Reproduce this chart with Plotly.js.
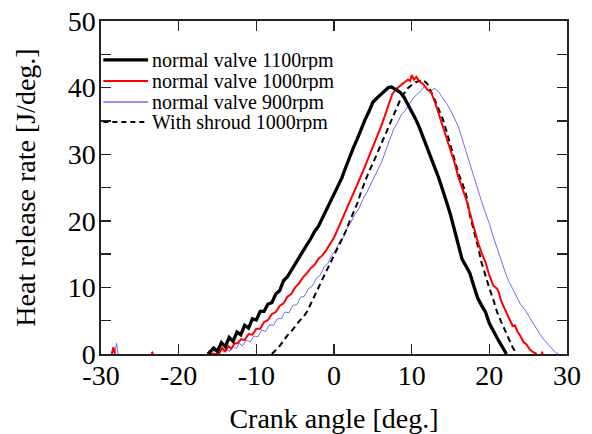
<!DOCTYPE html>
<html>
<head>
<meta charset="utf-8">
<script src="https://cdn.plot.ly/plotly-3.0.1.min.js"></script>
<style>html,body{margin:0;padding:0;background:#fff;}#chart{width:592px;height:434px;}</style>
</head>
<body>
<div id="chart"></div>
<script>
// Series names
const seriesNames = ["normal valve 1100rpm", "normal valve 1000rpm", "normal valve 900rpm", "With shroud 1000rpm"];

// Tick labels (hyphen minus as in the reference)
const xTickVals = [-30, -20, -10, 0, 10, 20, 30];
const xTickText = ["-30", "-20", "-10", "0", "10", "20", "30"];
const yTickVals = [0, 10, 20, 30, 40, 50];
const yTickText = ["0", "10", "20", "30", "40", "50"];

// normal valve 1100rpm
const x1100 = [-16.2,-15.5,-15.0,-14.5,-14.0,-13.5,-13.0,-12.5,-12.0,-11.5,-11.0,-10.5,-10.0,-9.5,-9.0,-8.5,-8.0,-7.5,-7.0,-6.5,-6.0,-5.5,-5.0,-4.5,-4.0,-3.5,-3.0,-2.5,-2.0,-1.5,-1.0,-0.5,0,0.5,1.0,1.5,2.0,2.5,3.0,3.5,4.0,4.5,5.0,5.5,6.0,6.5,7.0,7.4,8.0,8.5,9.0,9.5,10.0,10.5,11.0,11.5,12.0,12.5,13.0,13.5,14.0,14.5,15.0,15.5,16.0,16.5,17.0,17.5,18.0,18.5,19.0,19.5,20.0,20.5,21.0,21.5,22.2];
const y1100 = [0,0.9,0.4,1.7,1.1,2.5,1.9,3.3,2.9,4.3,3.9,5.3,5.1,6.4,6.4,7.5,7.7,9.0,9.5,11.0,11.6,12.6,13.4,14.5,15.4,16.4,17.3,18.4,19.2,20.4,21.5,22.8,24.0,25.2,26.4,28.0,29.6,31.0,32.3,33.8,35.2,36.4,37.8,38.4,38.9,39.5,40.0,40.1,39.6,39.3,38.6,37.5,36.5,35.3,34.0,32.4,30.9,29.5,27.9,26.4,24.7,22.8,20.9,18.6,16.0,14.2,13.2,12.1,10.2,8.4,7.3,6.3,4.6,3.4,2.4,1.4,0];

// normal valve 1000rpm (null separates isolated blips)
const x1000 = [-28.6,-28.4,-28.2,null,-23.5,-23.4,-23.3,null,-16.3,-16.1,-15.9,-14.8,-14.4,-14.0,-13.6,-13.2,-12.8,-12.4,-12.0,-11.5,-11.0,-10.5,-10.0,-9.5,-9.0,-8.5,-8.0,-7.5,-7.0,-6.5,-6.0,-5.5,-5.0,-4.5,-4.0,-3.5,-3.0,-2.5,-2.0,-1.5,-1.0,-0.5,0.0,0.5,1.0,1.5,2.0,2.5,3.0,3.5,4.0,4.5,5.0,5.5,6.0,6.5,7.0,7.5,8.0,8.5,9.0,9.5,9.8,10.0,10.3,10.6,11.0,11.5,12.0,12.5,13.0,13.5,14.0,14.5,15.0,15.5,16.0,16.5,17.0,17.5,18.0,18.5,19.0,19.5,20.0,20.5,21.0,21.2,21.5,22.0,22.5,23.0,23.3,23.6,24.0,24.4,24.8,25.2,25.6,26.1,null,26.7,26.8,26.9];
const y1000 = [0,1.0,0,null,0,0.2,0,null,0,0.3,0,0,0.9,0.4,1.2,0.8,1.6,1.6,2.2,2.1,3.0,2.9,3.8,3.8,4.8,5.1,6.0,6.3,7.2,7.6,8.6,9.0,10.0,10.6,11.5,12.1,12.9,13.4,14.3,14.8,15.6,16.6,17.5,18.8,20.1,21.4,22.8,24.0,25.3,26.8,28.2,29.6,31.2,32.6,34.0,35.6,37.2,39.0,39.8,40.3,40.7,41.2,41.0,41.9,41.2,41.6,40.9,40.5,39.7,39.3,37.8,36.0,34.4,32.7,30.8,28.8,26.6,25.0,23.3,21.2,19.0,16.9,15.2,13.8,11.8,10.3,9.8,9.3,8.0,6.7,5.3,4.2,4.3,3.4,2.7,1.8,1.4,0.7,0.3,0,null,0,0.2,0];

// normal valve 900rpm
const x900 = [-28.7,-28.4,-28.2,-28.0,-27.8,null,-15.8,-15.3,-15.0,-14.6,-14.2,-13.8,-13.4,-13.0,-12.6,-12.2,-11.8,-11.3,-10.8,-10.3,-9.8,-9.3,-8.8,-8.3,-7.8,-7.3,-6.8,-6.3,-5.8,-5.3,-4.8,-4.3,-3.8,-3.3,-2.8,-2.3,-1.8,-1.3,-0.8,-0.3,0.2,0.7,1.2,1.7,2.2,2.7,3.2,3.7,4.2,4.7,5.2,5.7,6.2,6.7,7.2,7.7,8.2,8.7,9.2,9.7,10.2,10.7,11.2,11.7,12.1,12.5,13.0,13.5,14.0,14.5,15.0,15.5,16.0,16.5,17.0,17.5,18.0,18.5,19.0,19.5,20.0,20.5,21.0,21.5,22.0,22.5,23.0,23.5,24.0,24.5,25.0,25.5,26.0,26.5,27.0,27.5,28.0,28.4,28.9];
const y900 = [0,1.0,0.2,1.6,0,null,0,0.5,0.2,0.7,0.3,0.6,0.4,1.2,0.8,1.6,1.2,2.1,1.8,2.7,2.6,3.6,3.4,4.4,4.3,5.3,5.3,6.3,6.2,7.3,7.4,8.5,8.7,9.8,10.2,11.3,11.8,13.0,13.6,14.8,15.6,16.8,17.5,18.9,19.8,21.0,21.8,23.2,24.2,25.4,26.4,27.8,29.0,30.7,32.2,33.8,34.8,36.0,36.6,37.6,38.4,39.0,39.5,40.3,39.7,39.5,39.9,39.3,38.5,37.6,36.6,35.4,34.2,32.3,30.4,28.6,26.5,24.6,22.9,21.2,19.6,17.6,16.0,14.2,12.4,10.9,9.8,8.6,7.5,6.8,5.8,4.9,3.8,3.0,2.2,1.5,0.8,0.35,0];

// With shroud 1000rpm
const xShroud = [-8.0,-7.5,-7.0,-6.5,-6.0,-5.5,-5.0,-4.5,-4.0,-3.5,-3.0,-2.5,-2.0,-1.5,-1.0,-0.5,0,0.5,1.0,1.5,2.0,2.5,3.0,3.5,4.0,4.5,5.0,5.5,6.0,6.5,7.0,7.5,8.0,8.5,9.0,9.5,10.0,10.5,11.0,11.4,12.0,12.5,13.0,13.5,14.0,14.5,15.0,15.5,16.0,16.5,17.0,17.5,18.0,18.5,19.0,19.5,20.0,20.5,21.0,21.5,22.0,22.5,23.0,23.5];
const yShroud = [0,0.6,1.2,2.0,2.8,3.4,4.2,4.9,5.5,6.3,7.5,8.8,10.0,11.2,12.4,13.6,14.9,16.0,17.2,18.4,19.9,21.2,22.6,24.4,26.0,27.4,28.6,30.0,31.4,32.8,34.2,35.4,36.8,38.1,39.1,39.9,40.4,40.8,41.0,41.2,40.6,39.4,38.1,36.7,35.3,33.4,31.3,29.3,27.2,25.7,24.0,20.8,18.6,16.3,13.7,11.7,9.9,8.2,6.3,4.9,3.5,2.3,1.0,0];

const colors = ["#000000", "#ff0000", "#6b6bff", "#000000"];
const widths = [3.3, 2, 1, 2];
const dashes = ["solid", "solid", "solid", "6px,4px"];
const xs = [x1100, x1000, x900, xShroud];
const ys = [y1100, y1000, y900, yShroud];

const FONT = "Liberation Serif";

// draw order: 900 below, then shroud, red, black on top
const order = [2, 3, 1, 0];
const traces = order.map(i => ({
  type: "scatter", mode: "lines", name: seriesNames[i],
  x: xs[i], y: ys[i], connectgaps: false, showlegend: false,
  line: {color: colors[i], width: widths[i], dash: dashes[i]}
}));

// custom legend (compact rows like the reference)
const legRows = [0.883, 0.820, 0.757, 0.697];
const shapes = [];
const annotations = [];
seriesNames.forEach((n, i) => {
  shapes.push({type: "line", xref: "paper", yref: "paper", x0: 0.005, x1: 0.101, y0: legRows[i], y1: legRows[i],
    line: {color: colors[i], width: widths[i] === 1 ? 1.5 : widths[i], dash: i === 3 ? "5px,4px" : "solid"}});
  annotations.push({xref: "paper", yref: "paper", x: 0.108, y: legRows[i], xanchor: "left", yanchor: "middle",
    text: n, showarrow: false, height: 20, borderpad: 0, valign: "middle",
    font: {family: FONT, size: 20, color: "#000"}});
});

const axisCommon = {
  showline: true, linecolor: "#222", linewidth: 1.6, mirror: "ticks",
  ticks: "inside", tickcolor: "#222", tickwidth: 1.4, ticklen: 10,
  showgrid: false, zeroline: false, tickmode: "array",
  tickfont: {family: FONT, size: 28, color: "#000"}
};

const layout = {
  width: 592, height: 434,
  margin: {l: 101, r: 25, t: 21, b: 80},
  paper_bgcolor: "#fff", plot_bgcolor: "#fff",
  showlegend: false,
  xaxis: Object.assign({}, axisCommon, {
    range: [-30, 30], tickvals: xTickVals, ticktext: xTickText, ticklabelstandoff: -4,
    title: {text: "Crank angle [deg.]", font: {family: FONT, size: 28, color: "#000"}, standoff: 18}
  }),
  yaxis: Object.assign({}, axisCommon, {
    range: [0, 50], tickvals: yTickVals, ticktext: yTickText, ticklabelstandoff: -2,
    minor: {dtick: 5, tick0: 0, ticks: "inside", ticklen: 10, tickcolor: "#222", tickwidth: 1.4},
    title: {text: "Heat release rate [J/deg.]", font: {family: FONT, size: 28, color: "#000"}, standoff: 24}
  }),
  shapes: shapes,
  annotations: annotations
};

Plotly.newPlot("chart", traces, layout, {displayModeBar: false, staticPlot: true});
</script>
</body>
</html>
